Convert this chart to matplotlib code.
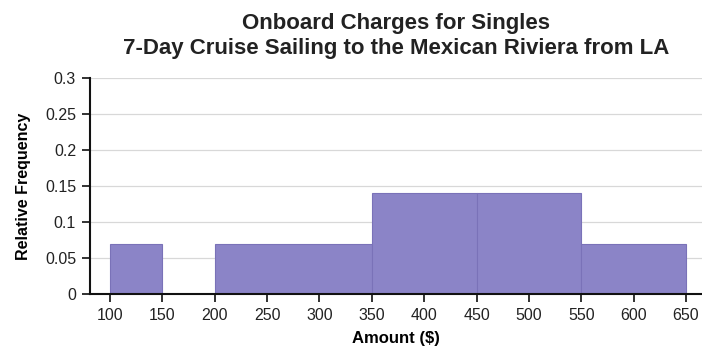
import matplotlib
matplotlib.use("Agg")
import matplotlib.pyplot as plt

# Histogram data
bin_edges = [100, 150, 200, 350, 450, 550, 650]
rel_freq = [0.07, 0.0, 0.07, 0.14, 0.14, 0.07]
x_ticks = [100, 150, 200, 250, 300, 350, 400, 450, 500, 550, 600, 650]
y_ticks = [0, 0.05, 0.1, 0.15, 0.2, 0.25, 0.3]
y_tick_labels = ["0", "0.05", "0.1", "0.15", "0.2", "0.25", "0.3"]

plt.rcParams["font.family"] = ["Liberation Sans", "DejaVu Sans"]

fig = plt.figure(figsize=(7.02, 3.56), dpi=100)
ax = fig.add_axes([90 / 702, 0.174, 612 / 702, 0.607])

lefts = bin_edges[:-1]
widths = [b - a for a, b in zip(bin_edges[:-1], bin_edges[1:])]
ax.bar(lefts, rel_freq, width=widths, align="edge", color="#8b84c7",
       edgecolor="#7a72b8", linewidth=0.8, zorder=2)

ax.set_xlim(80.9, 665.3)
ax.set_ylim(0, 0.3)
ax.set_xticks(x_ticks)
ax.set_yticks(y_ticks)
ax.set_yticklabels(y_tick_labels)
ax.tick_params(labelsize=11.5, length=6, width=1.3, colors="#222222", pad=4)
ax.grid(axis="y", color="#d8d8d8", linewidth=0.9, zorder=0)
ax.set_axisbelow(True)

for side in ("top", "right"):
    ax.spines[side].set_visible(False)
for side in ("left", "bottom"):
    ax.spines[side].set_linewidth(1.5)
    ax.spines[side].set_color("#111111")

ax.set_xlabel("Amount ($)", fontsize=12, fontweight="bold", labelpad=6)
ax.set_ylabel("Relative Frequency", fontsize=11.5, fontweight="bold", labelpad=10)
ax.set_title("Onboard Charges for Singles\n7-Day Cruise Sailing to the Mexican Riviera from LA",
             fontsize=16, fontweight="bold", color="#222222", pad=17, linespacing=1.3)

fig.savefig("out.png", dpi=100)
